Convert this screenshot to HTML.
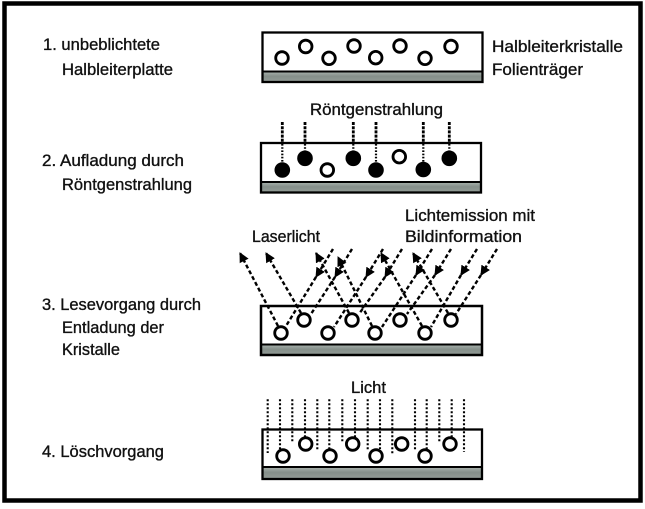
<!DOCTYPE html>
<html>
<head>
<meta charset="utf-8">
<style>
  html,body{margin:0;padding:0;background:#fff;}
  svg{display:block;}
  text{font-family:"Liberation Sans", sans-serif; font-size:16.5px; fill:#111; stroke:#111; stroke-width:0.35;}
</style>
</head>
<body>
<svg width="645" height="509" viewBox="0 0 645 509" xmlns="http://www.w3.org/2000/svg">
  <defs>
    <linearGradient id="gb" x1="0" y1="0" x2="0" y2="1">
      <stop offset="0" stop-color="#aab3ae"/>
      <stop offset="0.45" stop-color="#858f8a"/>
      <stop offset="1" stop-color="#939c97"/>
    </linearGradient>
    <marker id="ah" viewBox="0 0 10 10" refX="9" refY="5" markerWidth="10" markerHeight="10" markerUnits="userSpaceOnUse" orient="auto">
      <path d="M0,0 L10,5 L0,10 z" fill="#000"/>
    </marker>
  </defs>

  <rect x="0" y="0" width="645" height="509" fill="#fff"/>
  <rect x="4.5" y="3.5" width="636" height="497" fill="none" stroke="#000" stroke-width="4.5"/>

  <!-- LEFT LABELS -->
  <text x="43" y="50" textLength="117" lengthAdjust="spacingAndGlyphs">1. unbeblichtete</text>
  <text x="62" y="75" textLength="111" lengthAdjust="spacingAndGlyphs">Halbleiterplatte</text>

  <text x="42" y="166" textLength="142" lengthAdjust="spacingAndGlyphs">2. Aufladung durch</text>
  <text x="62" y="190" textLength="130" lengthAdjust="spacingAndGlyphs">Röntgenstrahlung</text>

  <text x="42" y="310" textLength="159" lengthAdjust="spacingAndGlyphs">3. Lesevorgang durch</text>
  <text x="62" y="333" textLength="102" lengthAdjust="spacingAndGlyphs">Entladung der</text>
  <text x="62" y="355" textLength="58" lengthAdjust="spacingAndGlyphs">Kristalle</text>

  <text x="42" y="457" textLength="122" lengthAdjust="spacingAndGlyphs">4. Löschvorgang</text>

  <!-- PLATE 1 -->
  <rect x="262.5" y="71.5" width="220" height="10.5" fill="url(#gb)"/>
  <rect x="262.5" y="32.5" width="220" height="49.5" fill="none" stroke="#000" stroke-width="2.3"/>
  <line x1="262.5" y1="71.5" x2="482.5" y2="71.5" stroke="#000" stroke-width="2"/>
  <g fill="#fff" stroke="#000" stroke-width="2.8">
    <circle cx="282" cy="58" r="6.3"/>
    <circle cx="305.7" cy="46.5" r="6.3"/>
    <circle cx="329" cy="58.3" r="6.3"/>
    <circle cx="354" cy="46" r="6.3"/>
    <circle cx="375.7" cy="57.7" r="6.3"/>
    <circle cx="400" cy="46" r="6.3"/>
    <circle cx="425" cy="58.3" r="6.3"/>
    <circle cx="451" cy="46.5" r="6.3"/>
  </g>
  <text x="492" y="52" textLength="131" lengthAdjust="spacingAndGlyphs">Halbleiterkristalle</text>
  <text x="492" y="75" textLength="91" lengthAdjust="spacingAndGlyphs">Folienträger</text>

  <!-- PLATE 2 -->
  <text x="310" y="115" textLength="133" lengthAdjust="spacingAndGlyphs">Röntgenstrahlung</text>
  <rect x="261" y="182" width="220" height="10.5" fill="url(#gb)"/>
  <rect x="261" y="143" width="220" height="49.5" fill="none" stroke="#000" stroke-width="2.3"/>
  <line x1="261" y1="182" x2="481" y2="182" stroke="#000" stroke-width="2"/>
  <g stroke="#000" stroke-width="2.8" stroke-dasharray="3 1.2">
    <line x1="282.3" y1="122" x2="282.3" y2="143"/>
    <line x1="305" y1="122" x2="305" y2="143"/>
    <line x1="353.3" y1="122" x2="353.3" y2="143"/>
    <line x1="376" y1="122" x2="376" y2="143"/>
    <line x1="423.3" y1="122" x2="423.3" y2="143"/>
    <line x1="449.3" y1="122" x2="449.3" y2="143"/>
  </g>
  <g stroke="#000" stroke-width="2.2" stroke-dasharray="1.6 1.6">
    <line x1="282.3" y1="144" x2="282.3" y2="163"/>
    <line x1="305" y1="144" x2="305" y2="151"/>
    <line x1="353.3" y1="144" x2="353.3" y2="151"/>
    <line x1="376" y1="144" x2="376" y2="163"/>
    <line x1="423.3" y1="144" x2="423.3" y2="163"/>
    <line x1="449.3" y1="144" x2="449.3" y2="151"/>
  </g>
  <g fill="#000">
    <circle cx="282.3" cy="170" r="7.8"/>
    <circle cx="305" cy="158.3" r="7.8"/>
    <circle cx="353.3" cy="158.3" r="7.8"/>
    <circle cx="376" cy="170" r="7.8"/>
    <circle cx="423.3" cy="169.5" r="7.8"/>
    <circle cx="449.3" cy="158.3" r="7.8"/>
  </g>
  <g fill="#fff" stroke="#000" stroke-width="2.8">
    <circle cx="327.3" cy="170" r="6.3"/>
    <circle cx="399.3" cy="156.7" r="6.3"/>
  </g>

  <!-- PLATE 3 -->
  <text x="252" y="242" textLength="68" lengthAdjust="spacingAndGlyphs">Laserlicht</text>
  <text x="405" y="221" textLength="130" lengthAdjust="spacingAndGlyphs">Lichtemission mit</text>
  <text x="405" y="242" textLength="117" lengthAdjust="spacingAndGlyphs">Bildinformation</text>

  <rect x="261" y="344.5" width="221" height="10.5" fill="url(#gb)"/>
  <rect x="261" y="306" width="221" height="49" fill="none" stroke="#000" stroke-width="2.5"/>
  <line x1="261" y1="344.5" x2="482" y2="344.5" stroke="#000" stroke-width="2"/>

  <g stroke="#000" stroke-width="2.4" stroke-dasharray="4 2.5" fill="none">
    <line x1="278" y1="326" x2="240" y2="253" marker-end="url(#ah)"/>
    <line x1="301" y1="313" x2="266" y2="253" marker-end="url(#ah)"/>
    <line x1="349" y1="313" x2="316" y2="253" marker-end="url(#ah)"/>
    <line x1="372" y1="326" x2="338" y2="257" marker-end="url(#ah)"/>
    <line x1="422" y1="326" x2="381" y2="253" marker-end="url(#ah)"/>
    <line x1="448" y1="313" x2="413" y2="253" marker-end="url(#ah)"/>
  </g>
  <g stroke="#000" stroke-width="2.4" stroke-dasharray="4 2.5" fill="none">
    <line x1="333" y1="249" x2="316" y2="277" marker-end="url(#ah)"/>
    <line x1="316" y1="277" x2="286" y2="326"/>
    <line x1="352" y1="249" x2="335" y2="277" marker-end="url(#ah)"/>
    <line x1="335" y1="277" x2="311" y2="314"/>
    <line x1="383" y1="249" x2="366" y2="277" marker-end="url(#ah)"/>
    <line x1="366" y1="277" x2="334" y2="327"/>
    <line x1="402" y1="249" x2="385" y2="277" marker-end="url(#ah)"/>
    <line x1="385" y1="277" x2="359" y2="314"/>
    <line x1="432" y1="249" x2="416" y2="275" marker-end="url(#ah)"/>
    <line x1="416" y1="275" x2="382" y2="327"/>
    <line x1="451" y1="249" x2="435" y2="275" marker-end="url(#ah)"/>
    <line x1="435" y1="275" x2="407" y2="314"/>
    <line x1="477" y1="249" x2="461" y2="275" marker-end="url(#ah)"/>
    <line x1="461" y1="275" x2="431" y2="327"/>
    <line x1="497" y1="249" x2="481" y2="275" marker-end="url(#ah)"/>
    <line x1="481" y1="275" x2="456" y2="314"/>
  </g>
  <g fill="#fff" stroke="#000" stroke-width="2.8">
    <circle cx="281" cy="333" r="6.3"/>
    <circle cx="304" cy="320" r="6.3"/>
    <circle cx="328" cy="333" r="6.3"/>
    <circle cx="352" cy="320" r="6.3"/>
    <circle cx="375" cy="333" r="6.3"/>
    <circle cx="400" cy="320" r="6.3"/>
    <circle cx="425" cy="333" r="6.3"/>
    <circle cx="451" cy="320" r="6.3"/>
  </g>

  <!-- PLATE 4 -->
  <text x="351" y="393" textLength="35" lengthAdjust="spacingAndGlyphs">Licht</text>
  <rect x="262.5" y="467" width="219.5" height="12" fill="url(#gb)"/>
  <rect x="262.5" y="429.5" width="219.5" height="49.5" fill="none" stroke="#000" stroke-width="2.3"/>
  <line x1="262.5" y1="467" x2="482" y2="467" stroke="#000" stroke-width="2"/>
  <g stroke="#000" stroke-width="2.1" stroke-dasharray="2 2">
    <line x1="267.7" y1="399.3" x2="267.7" y2="453"/>
    <line x1="280" y1="399.3" x2="280" y2="449"/>
    <line x1="292.3" y1="399.3" x2="292.3" y2="442"/>
    <line x1="305" y1="399.3" x2="305" y2="437"/>
    <line x1="317.3" y1="399.3" x2="317.3" y2="450"/>
    <line x1="329.3" y1="399.3" x2="329.3" y2="449"/>
    <line x1="342.3" y1="399.3" x2="342.3" y2="442"/>
    <line x1="355" y1="399.3" x2="355" y2="437"/>
    <line x1="367.7" y1="399.3" x2="367.7" y2="450"/>
    <line x1="380" y1="399.3" x2="380" y2="449"/>
    <line x1="392.3" y1="399.3" x2="392.3" y2="455"/>
    <line x1="415" y1="399.3" x2="415" y2="450"/>
    <line x1="426.7" y1="399.3" x2="426.7" y2="449"/>
    <line x1="439.3" y1="399.3" x2="439.3" y2="442"/>
    <line x1="451.7" y1="399.3" x2="451.7" y2="437"/>
    <line x1="464" y1="399.3" x2="464" y2="452"/>
  </g>
  <g fill="#fff" stroke="#000" stroke-width="2.8">
    <circle cx="283" cy="456" r="6.3"/>
    <circle cx="305.7" cy="444" r="6.3"/>
    <circle cx="330" cy="456" r="6.3"/>
    <circle cx="352.7" cy="444" r="6.3"/>
    <circle cx="376" cy="456" r="6.3"/>
    <circle cx="401.7" cy="444" r="6.3"/>
    <circle cx="425" cy="456" r="6.3"/>
    <circle cx="450" cy="444" r="6.3"/>
  </g>
</svg>
</body>
</html>
